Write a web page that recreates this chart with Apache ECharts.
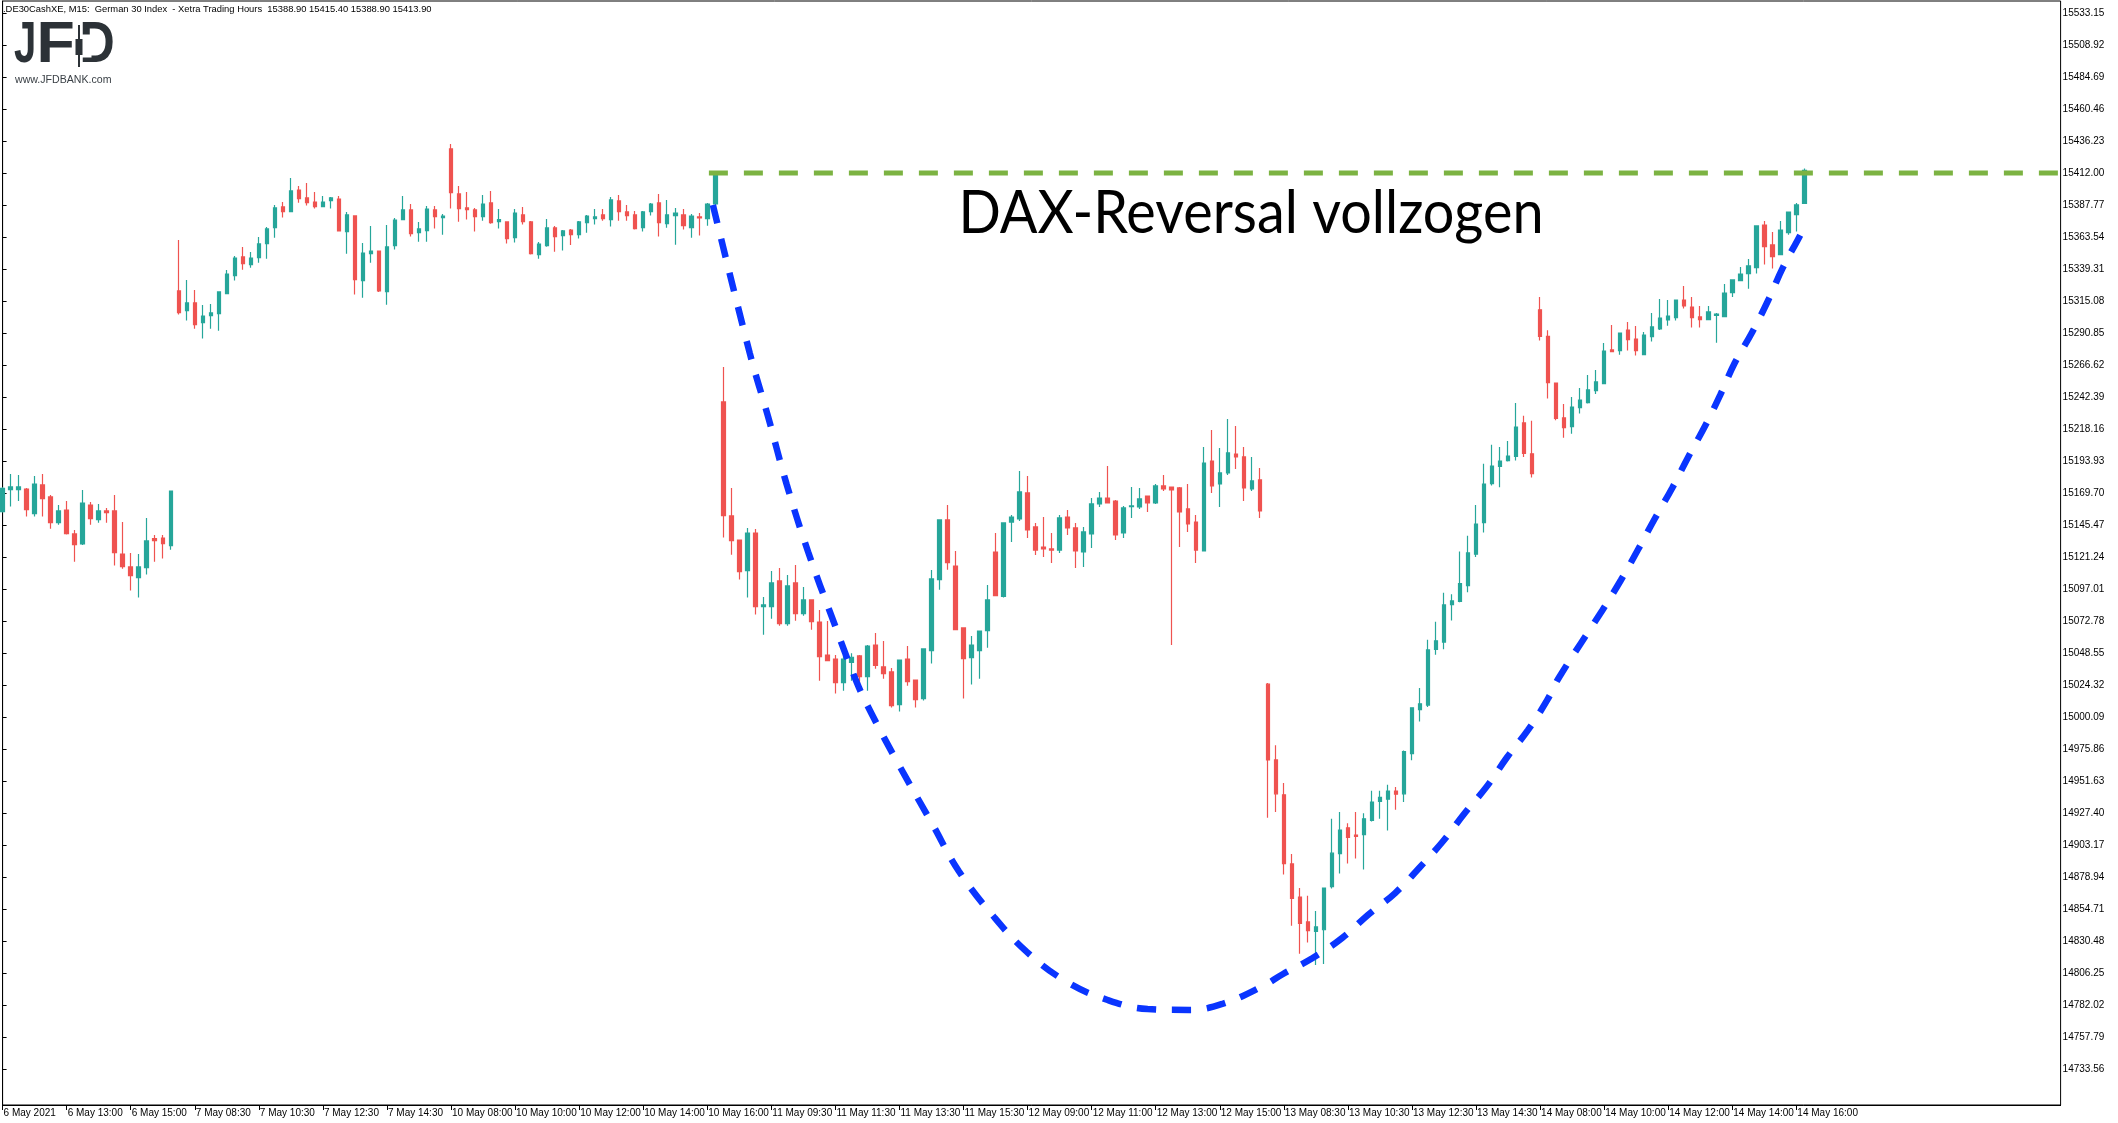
<!DOCTYPE html>
<html><head><meta charset="utf-8">
<script src="https://cdn.jsdelivr.net/npm/echarts@6/dist/echarts.min.js"></script>
<style>html,body{margin:0;padding:0;background:#fff}#c{width:2118px;height:1123px}</style>
</head><body><div id="c"></div>
<script>
// ---- chart data (DE30 / German 30 Index, M15, 6-14 May 2021) ----
const headerText = '.DE30CashXE, M15:  German 30 Index  - Xetra Trading Hours  15388.90 15415.40 15388.90 15413.90';
const annotationText = 'DAX-Reversal vollzogen';
const logoUrlText = 'www.JFDBANK.com';

const xTickLabels = ['6 May 2021','6 May 13:00','6 May 15:00','7 May 08:30','7 May 10:30','7 May 12:30','7 May 14:30',
  '10 May 08:00','10 May 10:00','10 May 12:00','10 May 14:00','10 May 16:00','11 May 09:30','11 May 11:30','11 May 13:30',
  '11 May 15:30','12 May 09:00','12 May 11:00','12 May 13:00','12 May 15:00','13 May 08:30','13 May 10:30','13 May 12:30',
  '13 May 14:30','14 May 08:00','14 May 10:00','14 May 12:00','14 May 14:00','14 May 16:00'];

const yTickLabels = [15533.15,15508.92,15484.69,15460.46,15436.23,15412.00,15387.77,15363.54,15339.31,15315.08,15290.85,
  15266.62,15242.39,15218.16,15193.93,15169.70,15145.47,15121.24,15097.01,15072.78,15048.55,15024.32,15000.09,14975.86,
  14951.63,14927.40,14903.17,14878.94,14854.71,14830.48,14806.25,14782.02,14757.79,14733.56];

const opens = [15155.6,15172.2,15172.2,15172.7,15154.1,15175.8,15166.7,15147.2,15156.8,15138.7,
15131.1,15160.6,15149.5,15156.1,15156.1,15123.5,15113.7,15105.6,15113.2,15135.1,
15135.6,15129.8,15322.7,15307.8,15313.6,15298.7,15304.0,15305.5,15320.6,15334.3,
15348.4,15342.6,15347.9,15358.5,15370.6,15386.3,15382.7,15399.1,15393.1,15390.0,
15386.5,15391.1,15392.3,15367.6,15379.5,15330.5,15350.9,15352.9,15322.2,15357.0,
15376.7,15384.0,15366.8,15368.3,15384.0,15378.2,15430.2,15396.1,15385.5,15384.0,
15378.9,15389.3,15375.1,15374.9,15363.0,15380.2,15374.9,15350.2,15357.0,15370.4,
15364.6,15368.8,15365.3,15374.4,15377.4,15380.2,15376.7,15390.8,15382.5,15380.2,
15370.6,15382.7,15389.3,15373.6,15379.7,15380.2,15370.6,15378.7,15377.4,15388.5,
15238.6,15152.3,15134.1,15110.9,15139.4,15083.6,15083.6,15103.1,15070.8,15101.6,
15078.3,15088.7,15072.0,15047.0,15044.0,15026.1,15041.5,15046.3,15030.6,15054.6,
15038.0,15034.2,15009.4,15044.0,15028.1,15014.0,15050.3,15104.1,15149.3,15114.4,
15067.5,15045.0,15050.3,15065.5,15125.0,15091.3,15147.7,15150.0,15169.7,15144.0,
15128.8,15127.3,15126.5,15151.5,15143.2,15125.0,15138.7,15161.4,15165.9,15163.6,
15139.4,15159.4,15159.1,15167.4,15162.1,15175.0,15174.2,15173.5,15157.6,15147.7,
15125.8,15193.9,15176.5,15184.9,15199.2,15197.0,15172.7,15179.6,15024.9,14967.6,
14941.2,14888.8,14863.7,14844.9,14837.7,14839.0,14871.6,14896.6,14916.2,14910.7,
14911.0,14921.7,14936.1,14937.8,14944.0,14941.9,14972.4,15005.7,15009.1,15051.3,
15056.8,15085.2,15087.6,15099.6,15123.3,15147.3,15176.8,15189.8,15194.2,15197.3,
15222.7,15199.4,15308.4,15288.2,15252.9,15226.5,15220.0,15234.3,15238.1,15247.2,
15252.5,15278.0,15277.5,15293.1,15286.3,15274.4,15288.1,15293.9,15300.7,15302.5,
15315.8,15310.5,15303.0,15300.9,15304.2,15303.2,15321.4,15330.5,15335.8,15340.3,
15372.6,15357.5,15350.2,15366.8,15380.4,15388.9];

const highs = [15174.0,15184.1,15183.3,15173.5,15182.6,15184.1,15168.2,15160.6,15163.6,15141.7,
15172.0,15162.9,15161.4,15158.4,15168.2,15147.7,15124.3,15123.5,15150.8,15137.9,
15137.9,15171.2,15361.3,15331.0,15323.4,15312.1,15312.8,15321.9,15338.6,15349.2,
15356.0,15352.2,15363.5,15371.1,15387.8,15390.0,15408.2,15402.2,15404.4,15397.6,
15394.6,15393.8,15394.6,15382.5,15379.5,15359.0,15371.9,15352.9,15372.6,15377.9,
15394.6,15388.5,15374.9,15387.0,15387.0,15381.0,15434.0,15402.2,15397.6,15385.5,
15395.3,15398.4,15384.7,15374.9,15384.7,15386.2,15375.7,15359.8,15377.2,15371.9,
15368.8,15369.6,15375.7,15380.2,15384.7,15384.7,15393.8,15395.3,15387.8,15383.2,
15383.2,15389.3,15396.1,15391.6,15385.5,15384.7,15381.0,15381.7,15389.3,15412.5,
15265.1,15173.5,15134.1,15143.2,15142.4,15090.9,15110.6,15112.9,15107.6,15115.1,
15098.5,15088.7,15081.1,15072.8,15047.0,15047.0,15048.3,15047.0,15054.6,15063.7,
15057.6,15037.2,15043.2,15053.8,15028.1,15051.6,15111.4,15149.3,15160.6,15125.8,
15067.5,15061.4,15065.2,15100.0,15139.4,15147.0,15153.0,15186.4,15182.6,15147.0,
15151.5,15139.4,15153.0,15156.8,15147.0,15144.0,15165.9,15170.5,15190.1,15164.4,
15159.9,15174.2,15173.5,15167.4,15176.5,15183.3,15174.2,15174.2,15176.5,15153.0,
15204.5,15217.4,15203.8,15225.8,15220.4,15204.5,15197.0,15188.6,15025.9,14978.6,
14950.1,14896.3,14870.6,14864.8,14853.1,14870.6,14923.0,14928.2,14919.6,14928.2,
14927.2,14944.3,14944.3,14948.8,14947.1,14974.8,15007.0,15022.1,15058.5,15072.2,
15094.1,15093.1,15125.3,15137.3,15160.6,15191.8,15206.2,15204.5,15209.0,15237.8,
15228.2,15224.4,15318.0,15293.0,15252.9,15237.1,15242.4,15249.2,15259.1,15262.8,
15283.3,15296.9,15290.8,15299.2,15296.2,15291.6,15306.0,15316.6,15315.8,15315.8,
15326.4,15318.1,15311.3,15311.3,15306.0,15327.9,15331.0,15340.8,15346.9,15371.9,
15375.7,15367.3,15375.7,15382.4,15389.3,15415.4];

const lows = [15155.0,15159.4,15163.6,15151.8,15151.8,15151.8,15142.7,15145.7,15138.2,15117.7,
15130.3,15145.7,15147.2,15147.2,15114.7,15112.4,15095.8,15090.5,15107.9,15117.7,
15120.0,15126.8,15304.8,15300.2,15294.1,15286.6,15294.1,15292.6,15320.6,15330.5,
15338.8,15340.3,15344.1,15347.1,15363.0,15378.2,15382.7,15389.5,15387.3,15385.0,
15386.5,15385.0,15367.6,15350.9,15319.9,15317.6,15344.1,15321.9,15312.3,15354.0,
15376.7,15363.8,15360.0,15360.0,15369.9,15365.3,15385.0,15375.1,15376.7,15367.6,
15375.9,15373.6,15369.9,15358.5,15359.3,15372.9,15350.2,15347.1,15356.2,15352.4,
15353.2,15357.5,15362.3,15366.8,15372.9,15375.9,15371.4,15375.9,15375.9,15369.1,
15367.6,15379.7,15363.8,15370.6,15357.7,15369.1,15363.0,15364.6,15372.1,15386.0,
15135.9,15123.0,15104.1,15090.5,15077.6,15062.4,15074.5,15069.2,15069.2,15073.0,
15076.8,15066.2,15027.6,15042.7,15017.8,15020.0,15027.6,15023.1,15020.0,15036.7,
15029.1,15007.2,15004.2,15023.8,15007.2,15012.5,15040.5,15096.5,15111.6,15066.2,
15014.0,15024.6,15029.1,15052.6,15092.0,15090.5,15132.6,15148.5,15135.6,15122.8,
15121.3,15116.7,15124.3,15137.9,15112.9,15113.7,15128.0,15159.1,15162.1,15134.1,
15135.6,15150.8,15157.6,15155.3,15161.4,15171.2,15054.6,15128.8,15140.2,15116.7,
15125.8,15169.7,15159.1,15183.3,15187.9,15163.6,15171.2,15150.8,14923.7,14928.2,
14880.9,14842.1,14820.9,14829.4,14812.3,14813.0,14870.3,14881.6,14889.1,14892.9,
14884.6,14921.0,14923.0,14914.1,14929.9,14935.7,14967.3,14996.7,15007.7,15047.2,
15051.3,15073.2,15086.9,15094.5,15121.2,15139.7,15175.4,15174.0,15193.6,15194.2,
15197.0,15181.5,15285.1,15241.2,15224.7,15211.6,15214.6,15229.8,15237.4,15244.7,
15252.5,15276.7,15274.4,15277.5,15273.7,15274.4,15284.3,15293.1,15296.4,15300.2,
15309.3,15294.9,15294.9,15300.9,15283.5,15303.2,15318.1,15330.5,15324.4,15335.8,
15342.6,15339.6,15350.2,15365.3,15367.6,15388.9];

const closes = [15173.2,15174.3,15174.3,15157.1,15176.5,15165.4,15147.2,15156.1,15138.9,15130.6,
15162.1,15150.3,15156.1,15154.8,15124.5,15113.9,15107.1,15113.7,15133.4,15133.6,
15131.3,15171.2,15306.3,15313.6,15297.2,15303.7,15306.0,15321.9,15335.5,15347.6,
15343.4,15347.6,15358.3,15369.6,15385.5,15382.7,15398.4,15392.6,15389.5,15386.5,
15390.0,15393.1,15368.1,15380.2,15331.2,15351.4,15352.9,15322.7,15356.0,15376.4,
15384.0,15366.1,15369.6,15384.7,15378.9,15379.4,15397.1,15385.0,15384.2,15378.9,
15388.5,15374.4,15376.7,15362.3,15381.7,15375.1,15350.9,15358.2,15370.4,15363.8,
15368.1,15365.3,15374.9,15379.4,15378.7,15377.4,15391.6,15382.7,15379.7,15369.9,
15382.5,15388.5,15374.4,15380.2,15381.7,15372.1,15379.4,15377.9,15388.5,15411.0,
15152.5,15133.6,15110.1,15139.4,15083.6,15084.9,15101.6,15070.8,15099.3,15078.3,
15088.7,15072.3,15045.8,15042.7,15026.1,15044.0,15045.3,15030.6,15053.8,15039.2,
15032.9,15008.7,15043.2,15026.8,15013.2,15051.6,15104.6,15149.3,15116.9,15066.2,
15044.3,15054.6,15065.2,15088.7,15092.0,15147.0,15151.5,15170.5,15141.7,15126.5,
15127.3,15126.5,15150.8,15143.2,15125.8,15140.2,15161.4,15165.9,15162.1,15137.9,
15158.4,15159.9,15165.2,15162.1,15175.0,15172.7,15172.0,15155.3,15146.3,15126.5,
15192.4,15175.0,15184.9,15200.0,15197.0,15173.5,15178.8,15156.1,14967.6,14941.9,
14889.1,14862.7,14843.8,14838.3,14841.1,14870.6,14897.0,14914.5,14909.0,14909.7,
14923.0,14935.7,14939.2,14944.0,14941.6,14973.8,15007.0,15010.1,15050.9,15057.8,
15084.9,15088.0,15101.0,15124.3,15146.2,15176.4,15190.1,15193.9,15197.7,15219.6,
15199.7,15184.3,15288.2,15253.2,15226.1,15219.2,15234.8,15240.1,15247.7,15253.8,
15277.2,15276.7,15290.8,15285.8,15277.5,15289.3,15295.4,15302.2,15303.7,15315.8,
15311.3,15302.5,15300.9,15306.8,15305.2,15321.1,15331.0,15335.5,15341.6,15371.9,
15356.2,15348.7,15368.8,15382.4,15387.8,15413.9];

// horizontal resistance (green dashed) and hand-drawn cup curve (blue dashed), in bar index / price
const resistancePrice = 15412.00;
const resistanceFromBar = 88.2;
const curveBar = [88.7,93.3,95.6,97.9,100.6,103.6,106.7,108.6,111.8,116.1,119.4,123.7,127.9,132.9,138.0,143.0,148.2,152.3,
  157.4,159.9,163.6,167.3,170.5,173.9,176.9,179.9,182.6,185.4,187.9,190.5,192.9,194.4,199.8,202.1,204.2,206.3,208.5,210.5,
  212.6,214.5,216.3,218.5,220.5,222.3,224.5,225.0];
const curvePrice = [15387.8,15275.7,15227.3,15176.5,15125.0,15075.1,15025.8,15001.6,14965.2,14919.1,14883.5,14849.4,14822.2,
  14799.5,14785.8,14779.0,14778.3,14782.8,14796.4,14805.5,14817.6,14832.8,14850.2,14866.8,14885.8,14906.2,14927.4,14947.9,
  14969.8,14990.3,15013.0,15030.4,15081.1,15103.8,15126.5,15150.0,15173.5,15197.0,15220.4,15243.9,15268.1,15291.6,15315.8,
  15340.1,15365.1,15371.9];

// ---- build ----
const SLOTS = 258;          // bars shown incl. empty right margin
const BARS_PER_LABEL = 8;
const categories = Array.from({length: SLOTS}, (_, i) => String(i));
const candleData = opens.map((o, i) => [o, closes[i], lows[i], highs[i]]);
const curveData = curveBar.map((b, i) => [b, curvePrice[i]]);
const isLabelBar = (i) => i % BARS_PER_LABEL === 0 && (i / BARS_PER_LABEL) < xTickLabels.length;

const UI_FONT = '"Liberation Sans", Arial, sans-serif';
const LOGO_FONT = 'bold 58px "Liberation Sans", Arial, sans-serif';
const LOGO_COLOR = '#2c3237';
const chart = echarts.init(document.getElementById('c'), null, {renderer: 'canvas'});
chart.setOption({
  animation: false,
  backgroundColor: '#ffffff',
  grid: {left: 2.6, right: 57.4, top: 1, bottom: 18, show: true, borderColor: '#000', borderWidth: 1,
         backgroundColor: 'transparent', outerBoundsMode: 'none'},
  xAxis: [{
    type: 'category', data: categories, boundaryGap: false,
    axisLine: {show: true, lineStyle: {color: '#000', width: 1}},
    axisTick: {show: true, interval: (i) => isLabelBar(i), length: 5, lineStyle: {color: '#000'}},
    axisLabel: {show: true, interval: (i) => isLabelBar(i), align: 'left', margin: 3, padding: [0, 0, 0, 1],
      color: '#000', fontSize: 10, fontFamily: UI_FONT,
      formatter: (v, i) => isLabelBar(i) ? xTickLabels[i / BARS_PER_LABEL] : ''},
    splitLine: {show: false}
  }, {
    type: 'value', min: 0, max: SLOTS - 1, show: false
  }],
  yAxis: {
    type: 'value', position: 'right', min: 14706.3, max: 15542.2,
    axisLine: {show: true, lineStyle: {color: '#000', width: 1}},
    axisTick: {show: true, length: 4, customValues: yTickLabels, lineStyle: {color: '#000'}},
    axisLabel: {show: true, customValues: yTickLabels, margin: 2, color: '#000', fontSize: 10, fontFamily: UI_FONT,
      formatter: (v) => Number(v).toFixed(2)},
    splitLine: {show: false}
  },
  series: [{
    type: 'candlestick', xAxisIndex: 0, yAxisIndex: 0, data: candleData, barWidth: 4,
    itemStyle: {color: '#26a69a', color0: '#ef5350', borderColor: '#26a69a', borderColor0: '#ef5350', borderWidth: 1.2},
    z: 2
  }, {
    type: 'line', xAxisIndex: 1, yAxisIndex: 0, symbol: 'none', silent: true, z: 5,
    data: [[resistanceFromBar, resistancePrice], [SLOTS - 1, resistancePrice]],
    lineStyle: {color: '#7cb342', width: 5, type: [19, 16], cap: 'butt'}
  }, {
    type: 'line', xAxisIndex: 1, yAxisIndex: 0, symbol: 'none', silent: true, z: 6, smooth: 0.4,
    data: curveData,
    lineStyle: {color: '#0a35ff', width: 6.5, type: [19, 16], cap: 'butt'}
  }],
  graphic: [
    {type: 'text', left: 3, top: 4.5, z: 20, style: {text: headerText, fill: '#000', font: '9.4px ' + UI_FONT}},
    // JFD logo
    {type: 'text', x: 14, y: 46, scaleX: 0.69, z: 20,
      style: {text: 'J', fill: LOGO_COLOR, font: LOGO_FONT, textAlign: 'left', textVerticalAlign: 'middle'}},
    {type: 'text', x: 36.5, y: 46, scaleX: 1.08, z: 20,
      style: {text: 'F', fill: LOGO_COLOR, font: LOGO_FONT, textAlign: 'left', textVerticalAlign: 'middle'}},
    {type: 'text', x: 79.5, y: 46, scaleX: 0.84, z: 20,
      style: {text: 'D', fill: LOGO_COLOR, font: LOGO_FONT, textAlign: 'left', textVerticalAlign: 'middle'}},
    {type: 'rect', z: 21, shape: {x: 81.5, y: 34.5, width: 10, height: 23}, style: {fill: '#fff'}},
    {type: 'rect', z: 22, shape: {x: 78, y: 25, width: 2, height: 42}, style: {fill: LOGO_COLOR}},
    {type: 'rect', z: 22, shape: {x: 75.5, y: 39, width: 7, height: 16}, style: {fill: LOGO_COLOR}},
    {type: 'text', left: 15, top: 75, z: 20, style: {text: logoUrlText, fill: '#3a4046', font: '10.6px ' + UI_FONT}},
    // annotation
    {type: 'text', x: 1251, y: 213.5, scaleX: 0.93, z: 20, style: {text: annotationText, fill: '#000',
      font: '60px Lato, "Open Sans", sans-serif', textAlign: 'center', textVerticalAlign: 'middle'}}
  ]
});
</script>
</body></html>
